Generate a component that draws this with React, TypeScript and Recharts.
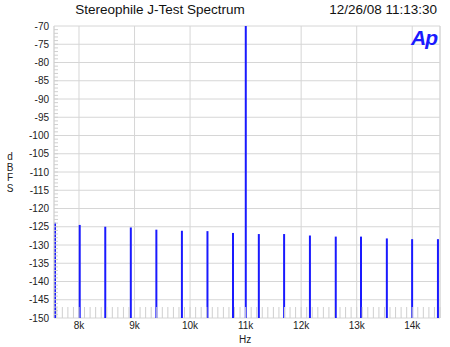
import { Bar, CartesianGrid, ComposedChart, ReferenceLine, XAxis, YAxis } from 'recharts'

// spectrum spikes (Hz, dBFS)
const freqs = [
  7575, 8020, 8480, 8940, 9400, 9860, 10320, 10780, 11010, 11245, 11700,
  12165, 12630, 13085, 13550, 14005, 14470,
]
const levels = [
  -123.9, -124.5, -125, -125.2, -125.8, -126.1, -126.2, -126.7, -70, -127,
  -127, -127.4, -127.7, -127.7, -128.2, -128.4, -128.4,
]

const xTicks = [8000, 9000, 10000, 11000, 12000, 13000, 14000]
const yTicks = [
  -70, -75, -80, -85, -90, -95, -100, -105, -110, -115, -120, -125, -130,
  -135, -140, -145, -150,
]
const xMinor: number[] = []
for (let f = 7600; f <= 14500; f += 100) xMinor.push(f)
const yMinor: number[] = []
for (let d = -149; d <= -71; d++) yMinor.push(d)

const X_MIN = 7550
const X_MAX = 14500
const FLOOR = -150

const data = freqs.map((f, i) => ({ f, range: [FLOOR, levels[i]] }))

const font = '"Liberation Sans", Arial, sans-serif'
const grid = '#d6d6d6'
const noLabel = () => <g />

export default function App() {
  return (
    <div
      style={{
        position: 'absolute',
        left: 0,
        top: 0,
        width: 450,
        height: 347,
        background: '#fff',
        fontFamily: font,
      }}
    >
      <div style={{ position: 'absolute', left: 0, width: 320, top: 2, textAlign: 'center', fontSize: 13.5, color: '#111' }}>
        Stereophile J-Test Spectrum
      </div>
      <div style={{ position: 'absolute', right: 13, top: 2, fontSize: 13.5, color: '#111' }}>
        12/26/08 11:13:30
      </div>
      <div
        style={{
          position: 'absolute',
          left: 411,
          top: 26,
          fontSize: 21,
          fontWeight: 'bold',
          fontStyle: 'italic',
          color: '#1a1aff',
          letterSpacing: -1,
          zIndex: 2,
        }}
      >
        Ap
      </div>
      <div
        style={{
          position: 'absolute',
          left: 5,
          top: 152,
          width: 10,
          fontSize: 10,
          lineHeight: '10.5px',
          textAlign: 'center',
          color: '#222',
        }}
      >
        d<br />B<br />F<br />S
      </div>
      <div style={{ position: 'absolute', left: 239, top: 334, fontSize: 10, color: '#222' }}>Hz</div>

      <ComposedChart
        width={450}
        height={347}
        data={data}
        margin={{ top: 26, right: 10, bottom: 15, left: 0 }}
        style={{ position: 'absolute', left: 0, top: 0 }}
      >
        <CartesianGrid stroke={grid} strokeWidth={1} />
        <XAxis
          dataKey="f"
          type="number"
          domain={[X_MIN, X_MAX]}
          allowDataOverflow
          ticks={xTicks}
          tickFormatter={(v: number) => `${v / 1000}k`}
          tick={{ fontSize: 10, fill: '#222', fontFamily: font }}
          tickLine={false}
          tickSize={0}
          tickMargin={4}
          axisLine={false}
          height={14}
        />
        <XAxis
          xAxisId="minor"
          dataKey="f"
          type="number"
          domain={[X_MIN, X_MAX]}
          allowDataOverflow
          ticks={xMinor}
          interval={0}
          orientation="bottom"
          mirror
          height={1}
          tick={noLabel}
          tickSize={11}
          tickLine={{ stroke: '#cfcfcf' }}
          axisLine={false}
        />
        <YAxis
          type="number"
          domain={[FLOOR, -70]}
          allowDataOverflow
          ticks={yTicks}
          interval={0}
          tick={{ fontSize: 10, fill: '#222', fontFamily: font }}
          tickLine={false}
          tickSize={0}
          tickMargin={5}
          axisLine={false}
          width={54}
        />
        <YAxis
          yAxisId="minor"
          type="number"
          domain={[FLOOR, -70]}
          allowDataOverflow
          ticks={yMinor}
          interval={0}
          orientation="left"
          mirror
          width={1}
          tick={noLabel}
          tickSize={4}
          tickLine={{ stroke: '#cfcfcf' }}
          axisLine={false}
        />
        <ReferenceLine x={X_MIN} stroke={grid} />
        <ReferenceLine x={X_MAX} stroke={grid} />
        <Bar dataKey="range" fill="#1a1aff" barSize={2} isAnimationActive={false} />
      </ComposedChart>
    </div>
  )
}
